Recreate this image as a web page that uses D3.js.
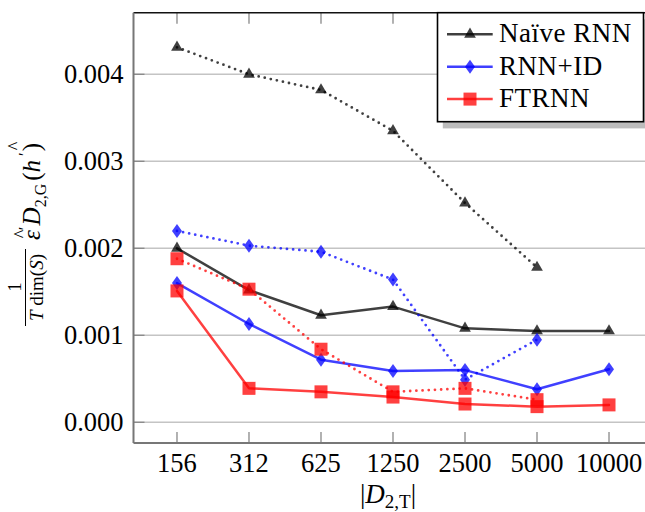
<!DOCTYPE html>
<html>
<head>
<meta charset="UTF-8" />
<title>chart</title>
<script src="https://d3js.org/d3.v7.min.js"></script>
<style>
  body { margin: 0; background: #fff; }
</style>
</head>
<body>
<svg id="svg" width="645" height="512"></svg>
<script>
// data (values in units of 1e-3)
const categories = ["156", "312", "625", "1250", "2500", "5000", "10000"]
const yTicks = [0, 0.001, 0.002, 0.003, 0.004]
const naiveSolid = [2.00, 1.52, 1.23, 1.33, 1.08, 1.05, 1.05]
const naiveDotted = [4.31, 4.00, 3.82, 3.35, 2.52, 1.78]
const idSolid = [1.60, 1.13, 0.72, 0.59, 0.60, 0.38, 0.61]
const idDotted = [2.20, 2.03, 1.96, 1.64, 0.49, 0.95]
const ftSolid = [1.51, 0.39, 0.35, 0.29, 0.21, 0.18, 0.20]
const ftDotted = [1.88, 1.53, 0.84, 0.35, 0.39, 0.26]
const legendNames = ["Naïve RNN", "RNN+ID", "FTRNN"]

const svg = d3.select("#svg")
const serif = "Liberation Serif, Times New Roman, Times, DejaVu Serif, Tinos, serif"

const plotL = 133.5, plotR = 652.5, plotT = 12.7, plotB = 443

const x = d3.scalePoint()
  .domain(categories)
  .range([plotL, plotR])
  .padding(0.604)

const y = d3.scaleLinear()
  .domain([-0.000238, 0.004708])
  .range([plotB, plotT])

// grid
svg.append("g").selectAll("line")
  .data(yTicks)
  .join("line")
  .attr("x1", plotL).attr("x2", plotR)
  .attr("y1", d => y(d)).attr("y2", d => y(d))
  .attr("stroke", "#c4c4c4")
  .attr("stroke-width", 1.4)

// ticks (inward) bottom + top + left
const gray = "#888"
svg.append("g").selectAll("line")
  .data(categories)
  .join("line")
  .attr("x1", d => x(d)).attr("x2", d => x(d))
  .attr("y1", plotB).attr("y2", plotB - 11)
  .attr("stroke", gray).attr("stroke-width", 1.3)
svg.append("g").selectAll("line")
  .data(categories)
  .join("line")
  .attr("x1", d => x(d)).attr("x2", d => x(d))
  .attr("y1", plotT).attr("y2", plotT + 11)
  .attr("stroke", gray).attr("stroke-width", 1.3)
svg.append("g").selectAll("line")
  .data(yTicks)
  .join("line")
  .attr("x1", plotL).attr("x2", plotL + 11)
  .attr("y1", d => y(d)).attr("y2", d => y(d))
  .attr("stroke", gray).attr("stroke-width", 1.3)

// axis frame
svg.append("line").attr("x1", plotL).attr("x2", plotR).attr("y1", plotT).attr("y2", plotT)
  .attr("stroke", "#111").attr("stroke-width", 1.6)
svg.append("line").attr("x1", plotL).attr("x2", plotL).attr("y1", plotT).attr("y2", plotB)
  .attr("stroke", "#777").attr("stroke-width", 2)
svg.append("line").attr("x1", plotL).attr("x2", plotR).attr("y1", plotB).attr("y2", plotB)
  .attr("stroke", "#777").attr("stroke-width", 2)

// tick labels
svg.append("g").selectAll("text")
  .data(yTicks)
  .join("text")
  .attr("x", 123.5)
  .attr("y", d => y(d) + 9)
  .attr("text-anchor", "end")
  .style("font-family", serif)
  .style("font-size", "26.5px")
  .text(d => d3.format(".3f")(d))

svg.append("g").selectAll("text")
  .data(categories)
  .join("text")
  .attr("x", d => x(d))
  .attr("y", 472)
  .attr("text-anchor", "middle")
  .style("font-family", serif)
  .style("font-size", "26.5px")
  .text(d => d)

// series
const series = [
  { vals: naiveSolid, color: "#000", mark: "tri", dash: null },
  { vals: idSolid, color: "#0000ff", mark: "dia", dash: null },
  { vals: ftSolid, color: "#ff0000", mark: "sq", dash: null },
  { vals: naiveDotted, color: "#000", mark: "tri", dash: "0 6.2" },
  { vals: idDotted, color: "#0000ff", mark: "dia", dash: "0 6.2" },
  { vals: ftDotted, color: "#ff0000", mark: "sq", dash: "0 6.2" }
]

const line = d3.line()
  .x((d, i) => x(categories[i]))
  .y(d => y(d / 1000))

function markPath(type) {
  if (type === "tri") {
    const s = 6.8
    return `M0,${-s}L${0.866 * s},${0.5 * s}L${-0.866 * s},${0.5 * s}Z`
  }
  if (type === "dia") return "M0,-7L5,0L0,7L-5,0Z"
  return "M-6.5,-6.5H6.5V6.5H-6.5Z"
}

series.forEach(s => {
  const g = svg.append("g").attr("opacity", 0.75)
  g.append("path")
    .attr("d", line(s.vals))
    .attr("fill", "none")
    .attr("stroke", s.color)
    .attr("stroke-width", s.dash ? 2.8 : 2.5)
    .attr("stroke-linecap", "round")
    .attr("stroke-linejoin", "round")
    .attr("stroke-dasharray", s.dash)
  svg.append("g").selectAll("path")
    .data(s.vals)
    .join("path")
    .attr("transform", (d, i) => `translate(${x(categories[i])},${y(d / 1000)})`)
    .attr("d", markPath(s.mark))
    .attr("fill", s.color)
    .attr("fill-opacity", 0.75)
})

// legend
const lx = 437.5, ly = 12.7, lw = 206, lh = 109
svg.append("rect").attr("x", lx + 5.3).attr("y", ly + 6.7).attr("width", lw).attr("height", lh)
  .attr("fill", "#bcbcbc")
svg.append("rect").attr("x", lx).attr("y", ly).attr("width", lw).attr("height", lh)
  .attr("fill", "#fff").attr("stroke", "#000").attr("stroke-width", 1.6)

const legendRows = svg.append("g").selectAll("g")
  .data(legendNames)
  .join("g")
  .attr("transform", (d, i) => `translate(0,${34.3 + i * 32.4})`)
legendRows.append("line")
  .attr("x1", 447).attr("x2", 492.7)
  .attr("stroke", (d, i) => series[i].color)
  .attr("stroke-width", 2.5)
  .attr("opacity", 0.75)
legendRows.append("path")
  .attr("transform", "translate(470,0)")
  .attr("d", (d, i) => markPath(series[i].mark))
  .attr("fill", (d, i) => series[i].color)
  .attr("fill-opacity", 0.75)
legendRows.append("text")
  .attr("x", 499)
  .attr("y", 8)
  .style("font-family", serif)
  .style("font-size", "27px")
  .style("letter-spacing", "0.5px")
  .text(d => d)

// x axis label |D_{2,T}|
const xl = svg.append("text")
  .attr("x", 388)
  .attr("y", 503)
  .attr("text-anchor", "middle")
  .style("font-family", serif)
  .style("font-size", "27px")
xl.append("tspan").text("|")
xl.append("tspan").style("font-style", "italic").text("D")
xl.append("tspan").attr("dy", 5).style("font-size", "19px").text("2,T")
xl.append("tspan").attr("dy", -5).text("|")

// y axis label (rotated)
const yl = svg.append("g")
  .attr("transform", "translate(40,0) rotate(-90)")
  .style("font-family", serif)
yl.append("text")
  .attr("x", -287).attr("y", -19)
  .attr("text-anchor", "middle")
  .style("font-size", "19px")
  .text("1")
yl.append("line")
  .attr("x1", -326).attr("x2", -249)
  .attr("y1", -14.5).attr("y2", -14.5)
  .attr("stroke", "#000").attr("stroke-width", 1)
const den = yl.append("text")
  .attr("x", -287.5).attr("y", 3)
  .attr("text-anchor", "middle")
  .style("font-size", "19px")
den.append("tspan").style("font-style", "italic").text("T")
den.append("tspan").text(" dim(")
den.append("tspan").style("font-style", "italic").text("S")
den.append("tspan").text(")")

const main = yl.append("text")
  .attr("x", -240).attr("y", 0)
  .style("font-size", "25px")
main.append("tspan").style("font-style", "italic").text("ε")
main.append("tspan").attr("dy", -10).style("font-size", "17px").text("′")
main.append("tspan").attr("dy", 10).attr("dx", 1).style("font-style", "italic").text("D")
main.append("tspan").attr("dy", 6).style("font-size", "16px").text("2,G")
main.append("tspan").attr("dy", -6).attr("dx", 3).text("(")
main.append("tspan").style("font-style", "italic").text("h")
main.append("tspan").attr("dy", -10).attr("dx", 4).style("font-size", "17px").text("′")
main.append("tspan").attr("dy", 10).attr("dx", 1).text(")")
// hats over ε and h
yl.append("text").attr("x", -234).attr("y", -13).style("font-size", "18px").attr("text-anchor", "middle").text("^")
yl.append("text").attr("x", -146).attr("y", -19).style("font-size", "18px").attr("text-anchor", "middle").text("^")
</script>
</body>
</html>
